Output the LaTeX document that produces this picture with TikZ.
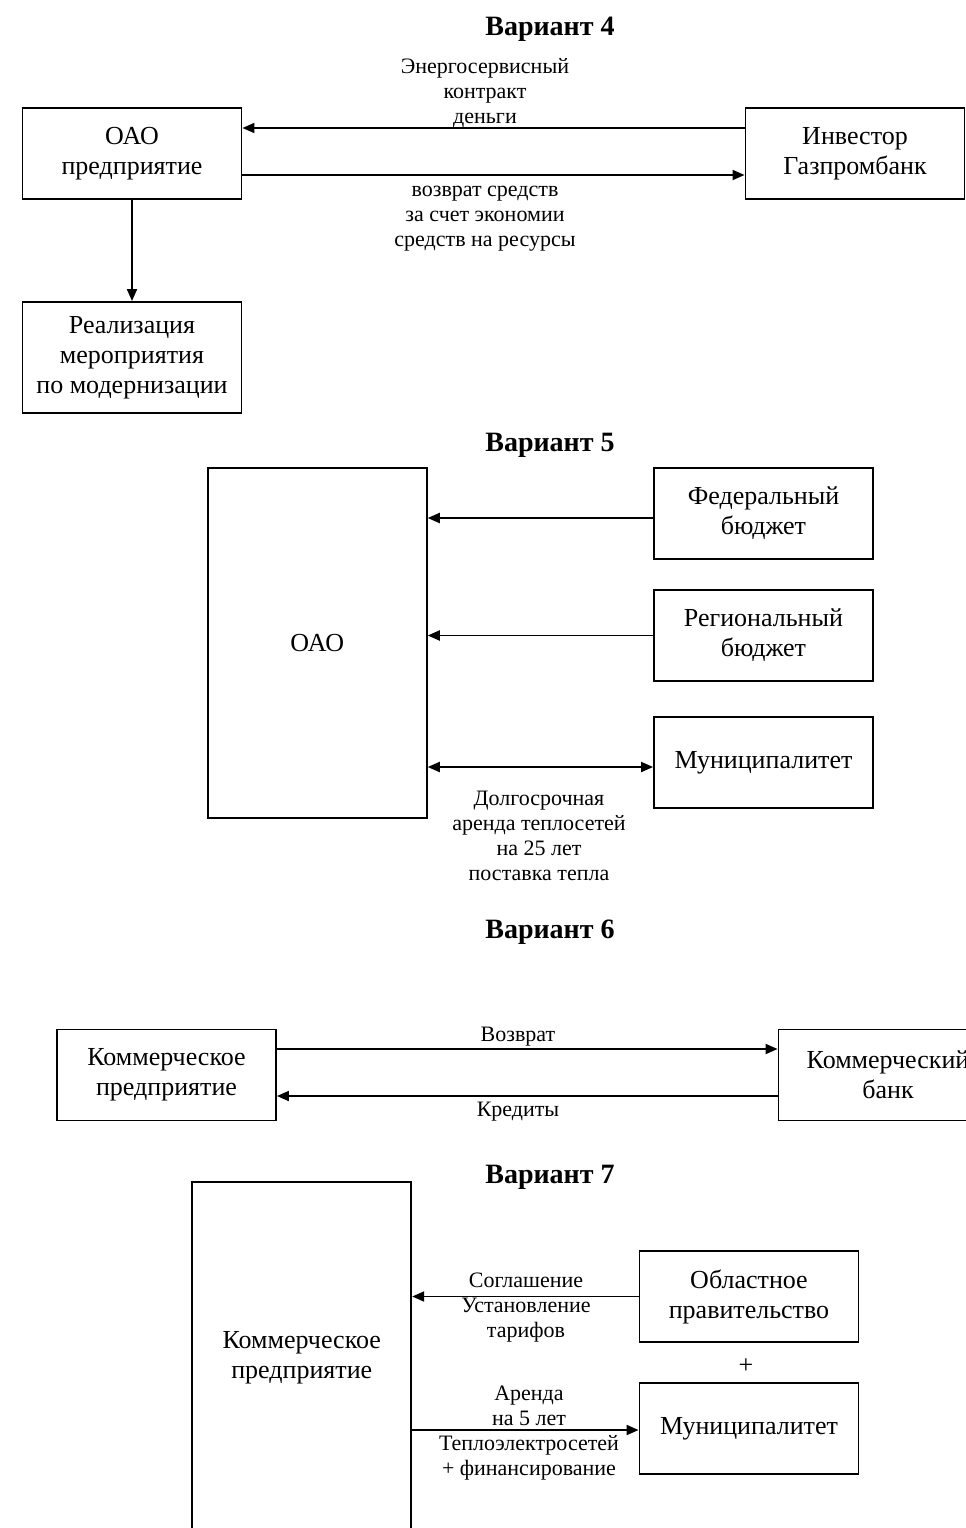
\documentclass[tikz,border=0pt]{standalone}
\usepackage{fontspec}
\setmainfont{Liberation Serif}
\usetikzlibrary{arrows.meta}

\begin{document}
\begin{tikzpicture}[x=1pt, y=-1pt, line width=1.9pt, >={Triangle[length=12pt,width=10pt]},
    box/.style={draw, rectangle, fill=none, text centered, align=center, minimum width=219pt, minimum height=91pt, font=\fontsize{26}{30}\selectfont},
    lbl/.style={align=center, inner sep=0pt, font=\fontsize{22}{25}\selectfont},
    ttl/.style={font=\fontsize{28}{32}\selectfont\bfseries}]
    \useasboundingbox (0, 0) rectangle (966, 1528);

    % Variant 4
    \node[ttl] (t4) at (550, 29) {Вариант 4};
    \node[box] (oao) at (132, 153.5) {ОАО\\предприятие};
    \node[box] (inv) at (855, 153.5) {Инвестор\\Газпромбанк};
    \node[box, minimum height=111pt] (real) at (132, 357.5) {Реализация\\мероприятия\\по модернизации};
    \node[lbl] (l4a) at (485, 93) {Энергосервисный\\контракт\\деньги};
    \node[lbl] (l4b) at (485, 219) {возврат средств\\за счет экономии\\средств на ресурсы};

    \draw [->] ([yshift=25.5pt]inv.west) -- ([yshift=25.5pt]oao.east);
    \draw [->] ([yshift=-21.5pt]oao.east) -- ([yshift=-21.5pt]inv.west);
    \draw [->] (oao.south) -- (real.north);

    % Variant 5
    \node[ttl] (t5) at (550, 445) {Вариант 5};
    \node[box, minimum height=350pt] (oao5) at (317.3, 643) {ОАО};
    \node[box] (fed) at (763.5, 513.5) {Федеральный\\бюджет};
    \node[box] (reg) at (763.5, 635.5) {Региональный\\бюджет};
    \node[box] (mun5) at (763.5, 762.5) {Муниципалитет};
    \node[lbl] (l5) at (539, 836) {Долгосрочная\\аренда теплосетей\\на 25 лет\\поставка тепла};

    \draw [->] ([yshift=-4.5pt]fed.west) -- ([yshift=-4.5pt]fed.west -| oao5.east);
    \draw [->] (reg.west) -- (reg.west -| oao5.east);
    \draw [<->] ([yshift=-4.5pt]mun5.west -| oao5.east) -- ([yshift=-4.5pt]mun5.west);

    % Variant 6
    \node[ttl] (t6) at (550, 932) {Вариант 6};
    \node[box] (kp) at (166.5, 1075) {Коммерческое\\предприятие};
    \node[box] (kb) at (888, 1075) {Коммерческий\\банк};
    \node[lbl] (l6a) at (518, 1037) {Возврат};
    \node[lbl] (l6b) at (518, 1112) {Кредиты};

    \draw [->] ([yshift=26pt]kp.east) -- ([yshift=26pt]kb.west);
    \draw [->] ([yshift=-21pt]kb.west) -- ([yshift=-21pt]kp.east);

    % Variant 7
    \node[ttl] (t7) at (550, 1177) {Вариант 7};
    \node[box, minimum height=352pt] (kp7) at (301.75, 1358) {Коммерческое\\предприятие};
    \node[box] (obl) at (749, 1296.5) {Областное\\правительство};
    \node[box] (mun7) at (749, 1428.5) {Муниципалитет};
    \node[lbl, font=\fontsize{26}{30}\selectfont] (plus) at (746, 1366) {+};
    \node[lbl] (l7a) at (526, 1308) {Соглашение\\Установление\\тарифов};
    \node[lbl] (l7b) at (529, 1433) {Аренда\\на 5 лет\\Теплоэлектросетей\\+ финансирование};

    \draw [->] (obl.west) -- (obl.west -| kp7.east);
    \draw [->] ([yshift=-1.5pt]mun7.west -| kp7.east) -- ([yshift=-1.5pt]mun7.west);
\end{tikzpicture}
\end{document}
